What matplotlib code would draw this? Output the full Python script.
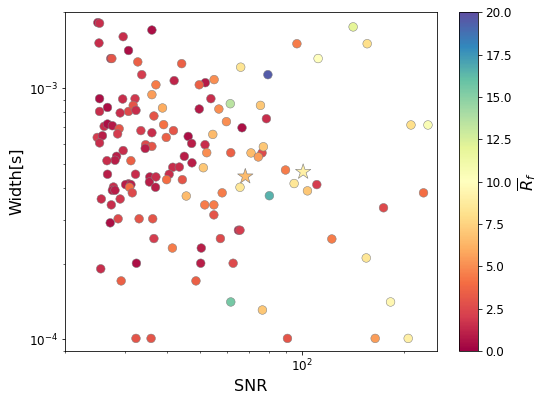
import numpy as np
import matplotlib
matplotlib.use("Agg")
import matplotlib.pyplot as plt

# SNR, pulse width [s] and mean R_f
snr = [25.0, 25.3, 36.1, 29.7, 25.2, 30.8, 27.3, 27.5, 32.8, 44.2,
       33.7, 66.0, 37.1, 42.0, 51.9, 49.8, 55.1, 25.3, 29.6, 32.2,
       36.1, 61.5, 25.3, 26.7, 29.1, 30.8, 31.8, 32.4, 38.8, 49.8,
       53.9, 56.9, 36.6, 59.9, 66.6, 26.1, 26.7, 27.6, 28.9, 28.6,
       33.5, 36.1, 39.1, 41.8, 39.8, 24.9, 25.8, 25.3, 29.7, 34.6,
       36.1, 34.5, 46.2, 47.3, 54.6, 51.8, 52.4, 61.7, 70.8, 76.3,
       77.0, 74.4, 28.4, 28.1, 26.6, 31.3, 45.0, 47.4, 51.2, 41.6,
       43.5, 26.7, 32.3, 35.6, 35.5, 37.1, 37.0, 40.6, 39.9, 44.4,
       30.8, 30.2, 31.3, 31.0, 31.6, 27.8, 27.6, 28.1, 25.6, 27.4,
       29.1, 45.6, 65.7, 58.2, 51.7, 55.0, 55.0, 27.2, 28.7, 33.1,
       36.3, 36.6, 41.5, 50.5, 57.5, 65.0, 65.7, 25.5, 32.5, 29.3,
       50.3, 48.7, 62.7, 61.7, 32.4, 35.9, 141.7, 96.7, 155.9, 111.7,
       79.4, 75.5, 78.6, 209.9, 235.6, 80.2, 89.5, 94.9, 103.9, 110.7,
       228.6, 174.2, 122.6, 154.9, 76.5, 182.7, 90.7, 164.6, 206.0]
width = [1.82e-3, 1.81e-3, 1.70e-3, 1.60e-3, 1.51e-3, 1.41e-3, 1.31e-3, 1.31e-3, 1.27e-3, 1.25e-3,
         1.13e-3, 1.21e-3, 1.03e-3, 1.07e-3, 1.05e-3, 1.03e-3, 1.08e-3, 9.07e-4, 9.04e-4, 9.07e-4,
         9.41e-4, 8.66e-4, 8.07e-4, 8.37e-4, 7.96e-4, 8.07e-4, 8.53e-4, 8.15e-4, 8.33e-4, 8.25e-4,
         9.07e-4, 8.25e-4, 7.74e-4, 7.35e-4, 6.95e-4, 7.04e-4, 7.19e-4, 7.08e-4, 6.89e-4, 6.57e-4,
         6.77e-4, 6.64e-4, 7.15e-4, 6.77e-4, 6.36e-4, 6.36e-4, 6.46e-4, 6.05e-4, 5.64e-4, 5.95e-4,
         5.86e-4, 5.75e-4, 6.42e-4, 6.02e-4, 6.54e-4, 5.95e-4, 5.53e-4, 5.53e-4, 5.52e-4, 5.52e-4,
         5.84e-4, 5.32e-4, 5.35e-4, 5.16e-4, 5.14e-4, 5.14e-4, 5.35e-4, 5.04e-4, 4.82e-4, 4.84e-4,
         4.85e-4, 4.54e-4, 4.54e-4, 4.43e-4, 4.23e-4, 4.43e-4, 4.03e-4, 4.54e-4, 4.32e-4, 4.32e-4,
         4.16e-4, 4.13e-4, 4.13e-4, 4.03e-4, 3.83e-4, 4.04e-4, 3.92e-4, 3.92e-4, 3.62e-4, 3.43e-4,
         3.62e-4, 3.72e-4, 4.03e-4, 3.83e-4, 3.43e-4, 3.43e-4, 3.13e-4, 2.91e-4, 3.02e-4, 3.02e-4,
         3.02e-4, 2.52e-4, 2.31e-4, 2.31e-4, 2.52e-4, 2.72e-4, 2.72e-4, 1.91e-4, 2.01e-4, 1.71e-4,
         2.01e-4, 1.71e-4, 2.01e-4, 1.41e-4, 1.01e-4, 1.01e-4, 1.75e-3, 1.50e-3, 1.50e-3, 1.31e-3,
         1.13e-3, 8.53e-4, 7.55e-4, 7.13e-4, 7.13e-4, 3.73e-4, 4.72e-4, 4.17e-4, 3.90e-4, 4.13e-4,
         3.83e-4, 3.34e-4, 2.51e-4, 2.11e-4, 1.31e-4, 1.41e-4, 1.01e-4, 1.01e-4, 1.01e-4]
rf = [0.8, 1.5, 0.5, 1.5, 1.5, 0.5, 1.0, 3.0, 3.5, 3.5,
      2.0, 8.3, 4.5, 1.2, 0.8, 3.5, 5.0, 0.5, 1.5, 1.8,
      5.5, 13.5, 1.5, 0.5, 1.5, 2.5, 3.0, 1.5, 6.0, 0.8,
      1.5, 5.0, 3.0, 5.0, 0.5, 1.5, 0.5, 0.8, 3.0, 2.0,
      2.0, 1.5, 4.2, 3.0, 3.5, 2.0, 1.0, 1.5, 1.5, 2.5,
      3.0, 1.0, 0.5, 1.0, 6.5, 1.5, 5.0, 3.5, 6.5, 2.5,
      7.0, 5.5, 1.0, 1.0, 1.5, 3.5, 1.0, 1.0, 7.0, 1.5,
      1.5, 1.0, 1.5, 1.0, 1.0, 1.5, 1.0, 1.5, 4.0, 3.0,
      0.8, 1.0, 1.0, 4.0, 2.5, 1.5, 1.0, 1.0, 1.5, 1.5,
      1.8, 6.5, 8.5, 4.5, 4.5, 4.5, 3.0, 0.5, 2.5, 3.0,
      3.0, 2.0, 4.5, 1.0, 2.5, 1.0, 2.0, 1.5, 0.5, 3.5,
      1.0, 3.5, 2.5, 15.5, 3.0, 3.0, 12.0, 4.5, 8.0, 10.0,
      19.5, 7.0, 1.5, 8.0, 10.5, 16.5, 4.5, 8.5, 7.0, 2.0,
      4.0, 2.5, 4.5, 8.5, 7.0, 9.5, 3.0, 5.5, 9.0]

# the two highlighted sources
star_snr = [68.1, 100.9]
star_width = [4.45e-4, 4.64e-4]
star_rf = [6.5, 9.0]

fig = plt.figure(figsize=(546/72, 401/72), dpi=72)
ax = fig.add_axes([0.119, 0.1247, 0.6808, 0.8446])
cax = fig.add_axes([0.8412, 0.1247, 0.0348, 0.8446])

sc = ax.scatter(snr, width, c=rf, cmap='Spectral', vmin=0, vmax=20, s=75,
                edgecolors='grey', linewidths=0.5)
ax.scatter(star_snr, star_width, c=star_rf, cmap='Spectral', vmin=0, vmax=20,
           s=260, marker='*', edgecolors='grey', linewidths=0.6)

ax.set_xscale('log')
ax.set_yscale('log')
ax.set_xlim(20, 250)
ax.set_ylim(9e-5, 2e-3)
ax.set_xlabel('SNR', fontsize=16)
ax.set_ylabel('Width[s]', fontsize=16)
ax.tick_params(labelsize=12)

cb = fig.colorbar(sc, cax=cax)
cb.set_label(r'$\overline{R}_f$', fontsize=16)
cb.ax.tick_params(labelsize=12)

fig.savefig('out.png', dpi=72)
